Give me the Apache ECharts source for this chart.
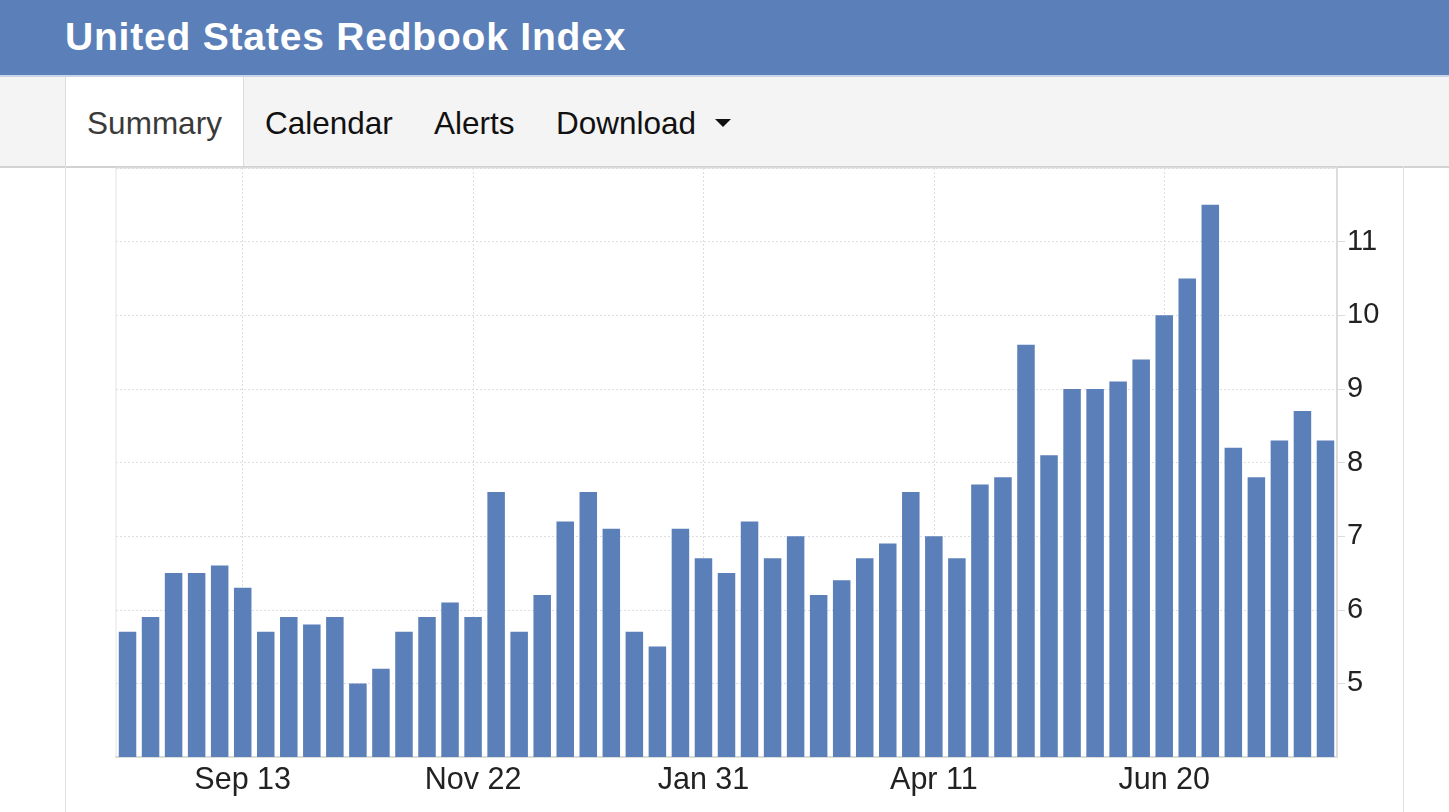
<!DOCTYPE html>
<html>
<head>
<meta charset="utf-8">
<script src="https://cdn.jsdelivr.net/npm/echarts@6/dist/echarts.min.js"></script>
<style>
  html, body { margin:0; padding:0; width:1449px; height:812px; overflow:hidden; background:#fff; font-family:"Liberation Sans", Arial, sans-serif; }
  #header { position:absolute; left:0; top:0; width:1449px; height:75px; background:#5b7fb8; }
  #header h1 { position:absolute; left:65px; top:0; margin:0; line-height:74px; font-size:39px; font-weight:bold; color:#fff; letter-spacing:0.8px; }
  #tabs { position:absolute; left:0; top:75px; width:1449px; height:89px; background:#f4f4f4; border-top:2px solid #c9d6ea; border-bottom:2px solid #d2d2d2; }
  .tab { position:absolute; top:0; height:89px; line-height:92px; font-size:31.5px; color:#111; }
  #summary { left:65px; width:177px; background:#fff; border-left:1px solid #dcdcdc; border-right:1px solid #dcdcdc; color:#3a3a3a; text-align:center; }
  #frameL { position:absolute; left:65px; top:166px; width:1px; height:646px; background:#e2e2e2; }
  #frameR { position:absolute; left:1403px; top:166px; width:1px; height:646px; background:#e2e2e2; }
  #chart { position:absolute; left:0; top:166px; width:1449px; height:646px; }
  .tri { display:inline-block; width:0; height:0; border-left:8px solid transparent; border-right:8px solid transparent; border-top:8px solid #111; vertical-align:middle; margin-left:19px; margin-top:-6px; }
</style>
</head>
<body>
<div id="header"><h1>United States Redbook Index</h1></div>
<div id="tabs">
  <div class="tab" id="summary">Summary</div>
  <div class="tab" style="left:265px">Calendar</div>
  <div class="tab" style="left:434px">Alerts</div>
  <div class="tab" style="left:556px">Download<span class="tri"></span></div>
</div>
<div id="frameL"></div>
<div id="frameR"></div>
<div id="chart"></div>
<script>
const weeks = [
  "Aug 9","Aug 16","Aug 23","Aug 30","Sep 6","Sep 13","Sep 20","Sep 27","Oct 4","Oct 11",
  "Oct 18","Oct 25","Nov 1","Nov 8","Nov 15","Nov 22","Nov 29","Dec 6","Dec 13","Dec 20",
  "Dec 27","Jan 3","Jan 10","Jan 17","Jan 24","Jan 31","Feb 7","Feb 14","Feb 21","Feb 28",
  "Mar 7","Mar 14","Mar 21","Mar 28","Apr 4","Apr 11","Apr 18","Apr 25","May 2","May 9",
  "May 16","May 23","May 30","Jun 6","Jun 13","Jun 20","Jun 27","Jul 4","Jul 11","Jul 18",
  "Jul 25","Aug 1","Aug 8"
];
const redbook = [
  5.7,5.9,6.5,6.5,6.6,6.3,5.7,5.9,5.8,5.9,
  5.0,5.2,5.7,5.9,6.1,5.9,7.6,5.7,6.2,7.2,
  7.6,7.1,5.7,5.5,7.1,6.7,6.5,7.2,6.7,7.0,
  6.2,6.4,6.7,6.9,7.6,7.0,6.7,7.7,7.8,9.6,
  8.1,9.0,9.0,9.1,9.4,10.0,10.5,11.5,8.2,7.8,
  8.3,8.7,8.3
];
const labelStart = 5;
const labelStep = 10;
const yMin = 4, yMax = 12, yStep = 1;

const showIdx = (i) => i >= labelStart && (i - labelStart) % labelStep === 0;
const chart = echarts.init(document.getElementById('chart'), null, { renderer: 'canvas' });
chart.setOption({
  animation: false,
  grid: { left: 116, right: 112, top: 2, bottom: 55, show: true, borderColor: '#e4e4e4', borderWidth: 1, backgroundColor: 'transparent' },
  xAxis: {
    type: 'category',
    data: weeks,
    axisLine: { show: true, lineStyle: { color: '#dcdcdc', width: 2 } },
    axisTick: { show: false },
    axisLabel: { interval: (i) => showIdx(i), color: '#222', fontSize: 30.5, margin: 8, fontFamily: 'Liberation Sans' },
    splitLine: { show: true, interval: (i) => showIdx(i), alignWithLabel: true, lineStyle: { color: '#dedede', type: [2, 2], width: 1 } }
  },
  yAxis: {
    type: 'value',
    position: 'right',
    min: yMin, max: yMax, interval: yStep,
    axisLine: { show: true, lineStyle: { color: '#dcdcdc', width: 2 } },
    axisTick: { show: true, length: 8, lineStyle: { color: '#dcdcdc' } },
    axisLabel: {
      showMinLabel: false, showMaxLabel: false,
      color: '#222', fontSize: 29, margin: 10, fontFamily: 'Liberation Sans',
      padding: [0, 0, 8, 0]
    },
    splitLine: { show: true, lineStyle: { color: '#dedede', type: [2, 2], width: 1 } }
  },
  series: [{
    type: 'bar',
    data: redbook,
    barCategoryGap: '24%',
    itemStyle: { color: '#5b7fb8' }
  }]
});
</script>
</body>
</html>
